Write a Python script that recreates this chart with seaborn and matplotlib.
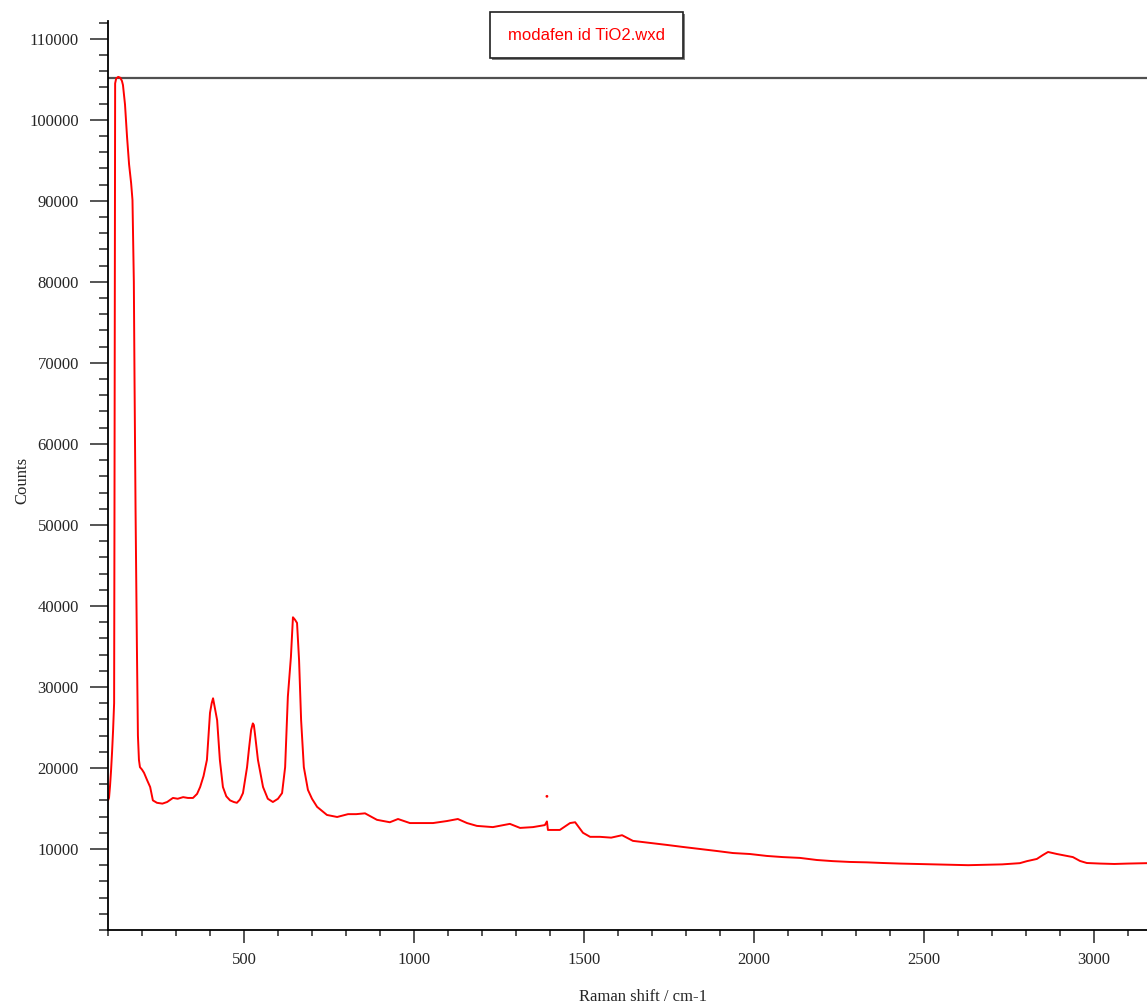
import matplotlib
matplotlib.use("Agg")
import matplotlib.pyplot as plt
from matplotlib.patches import Rectangle
from matplotlib.ticker import MultipleLocator
import pandas as pd
import seaborn as sns

# spectrum (Raman shift in cm-1, counts)
raman_shift = [100, 103, 106, 109, 112, 115, 118, 119, 121, 124, 130, 136, 141, 144,
               150, 156, 162, 168, 172, 174, 176, 178, 181, 185, 188, 191, 194, 200,
               206, 215, 224, 232, 244, 260, 274, 291, 305, 321, 335, 350, 362, 371,
               381, 391, 400, 405, 409, 414, 421, 429, 438, 448, 459, 470, 479, 488,
               497, 509, 515, 521, 526, 529, 532, 541, 556, 570, 585, 600, 612, 621,
               629, 638, 644, 650, 656, 662, 668, 676, 688, 700, 715, 744, 774, 806,
               830, 856, 891, 929, 953, 988, 1020, 1056, 1097, 1129, 1156, 1185, 1232,
               1282, 1312, 1350, 1385, 1391, 1394, 1409, 1429, 1459, 1474, 1497, 1518,
               1547, 1580, 1612, 1644, 1694, 1744, 1791, 1841, 1891, 1938, 1988, 2038,
               2085, 2135, 2185, 2232, 2282, 2332, 2379, 2429, 2480, 2530, 2576, 2630,
               2680, 2730, 2782, 2803, 2832, 2850, 2865, 2891, 2921, 2938, 2959, 2979,
               3018, 3060, 3100, 3156]
counts = [16000, 16300, 17800, 19700, 22000, 24700, 28000, 50000, 104500, 105100,
          105300, 105200, 104800, 104300, 101900, 97900, 94500, 92200, 90100, 85000,
          80000, 68000, 52000, 35000, 24000, 21000, 20100, 19800, 19400, 18500, 17650,
          16000, 15700, 15600, 15800, 16300, 16200, 16400, 16300, 16300, 16800, 17650,
          19000, 21000, 26800, 28000, 28600, 27500, 25900, 21000, 17650, 16500, 16000,
          15800, 15700, 16100, 16900, 20100, 22500, 24700, 25500, 25300, 24300, 21000,
          17650, 16200, 15800, 16200, 16900, 20100, 28800, 33700, 38600, 38300, 37900,
          33300, 25900, 20100, 17300, 16200, 15200, 14200, 13950, 14300, 14300, 14400,
          13600, 13300, 13700, 13200, 13200, 13200, 13450, 13700, 13200, 12850, 12700,
          13100, 12600, 12700, 12950, 13400, 12350, 12350, 12350, 13200, 13300, 12000,
          11500, 11500, 11400, 11700, 11000, 10750, 10500, 10250, 10000, 9750, 9500,
          9380, 9140, 9000, 8900, 8640, 8500, 8400, 8350, 8270, 8200, 8150, 8100, 8050,
          8000, 8050, 8100, 8250, 8500, 8770, 9260, 9630, 9380, 9140, 9000, 8520, 8270,
          8200, 8150, 8200, 8250]

stray_shift = [1391]
stray_counts = [16500]
limit_line = 105200

sns.set_style("ticks")
plt.rcParams["font.family"] = ["Liberation Serif", "DejaVu Serif"]

df = pd.DataFrame({"shift": raman_shift, "counts": counts})

fig = plt.figure(figsize=(11.47, 10.08), dpi=100)
ax = fig.add_axes([108 / 1147, 78 / 1008, 1039 / 1147, 909 / 1008])

sns.lineplot(data=df, x="shift", y="counts", color="#ff0000", lw=1.4, ax=ax)
sns.scatterplot(x=stray_shift, y=stray_counts, color="#ff0000", s=4,
                edgecolor="none", ax=ax)
ax.axhline(limit_line, color="#505050", lw=1.6, zorder=1)

ax.set_xlim(100, 3156)
ax.set_ylim(0, 112200)
ax.xaxis.set_major_locator(MultipleLocator(500))
ax.xaxis.set_minor_locator(MultipleLocator(100))
ax.set_yticks(range(10000, 110001, 10000))
ax.yaxis.set_minor_locator(MultipleLocator(2000))

for s in ["top", "right"]:
    ax.spines[s].set_visible(False)
for s in ["left", "bottom"]:
    ax.spines[s].set_linewidth(1.3)
    ax.spines[s].set_color("black")

ax.tick_params(axis="y", which="major", length=13, width=1.1, pad=8, labelsize=12)
ax.tick_params(axis="y", which="minor", length=6.5, width=1.1)
ax.tick_params(axis="x", which="major", length=9, width=1.1, pad=7, labelsize=12)
ax.tick_params(axis="x", which="minor", length=4, width=1.1)

ax.set_xlabel("Raman shift / cm-1", fontsize=12)
ax.set_ylabel("Counts", fontsize=12)
ax.xaxis.set_label_coords(0.515, -0.065)
ax.yaxis.set_label_coords(-0.075, 0.495)

# file name box at the top
fig.patches.append(Rectangle((492 / 1147, 1 - 60 / 1008), 193 / 1147, 46 / 1008,
                             transform=fig.transFigure, facecolor="#808080",
                             edgecolor="none", zorder=1))
fig.patches.append(Rectangle((490 / 1147, 1 - 58 / 1008), 193 / 1147, 46 / 1008,
                             transform=fig.transFigure, facecolor="white",
                             edgecolor="#202020", lw=1.2, zorder=2))
fig.text(586 / 1147, 1 - 35 / 1008, "modafen id TiO2.wxd", color="#ff0000",
         fontsize=12, family="Liberation Sans", ha="center", va="center", zorder=3)

fig.savefig("out.png", dpi=100)
